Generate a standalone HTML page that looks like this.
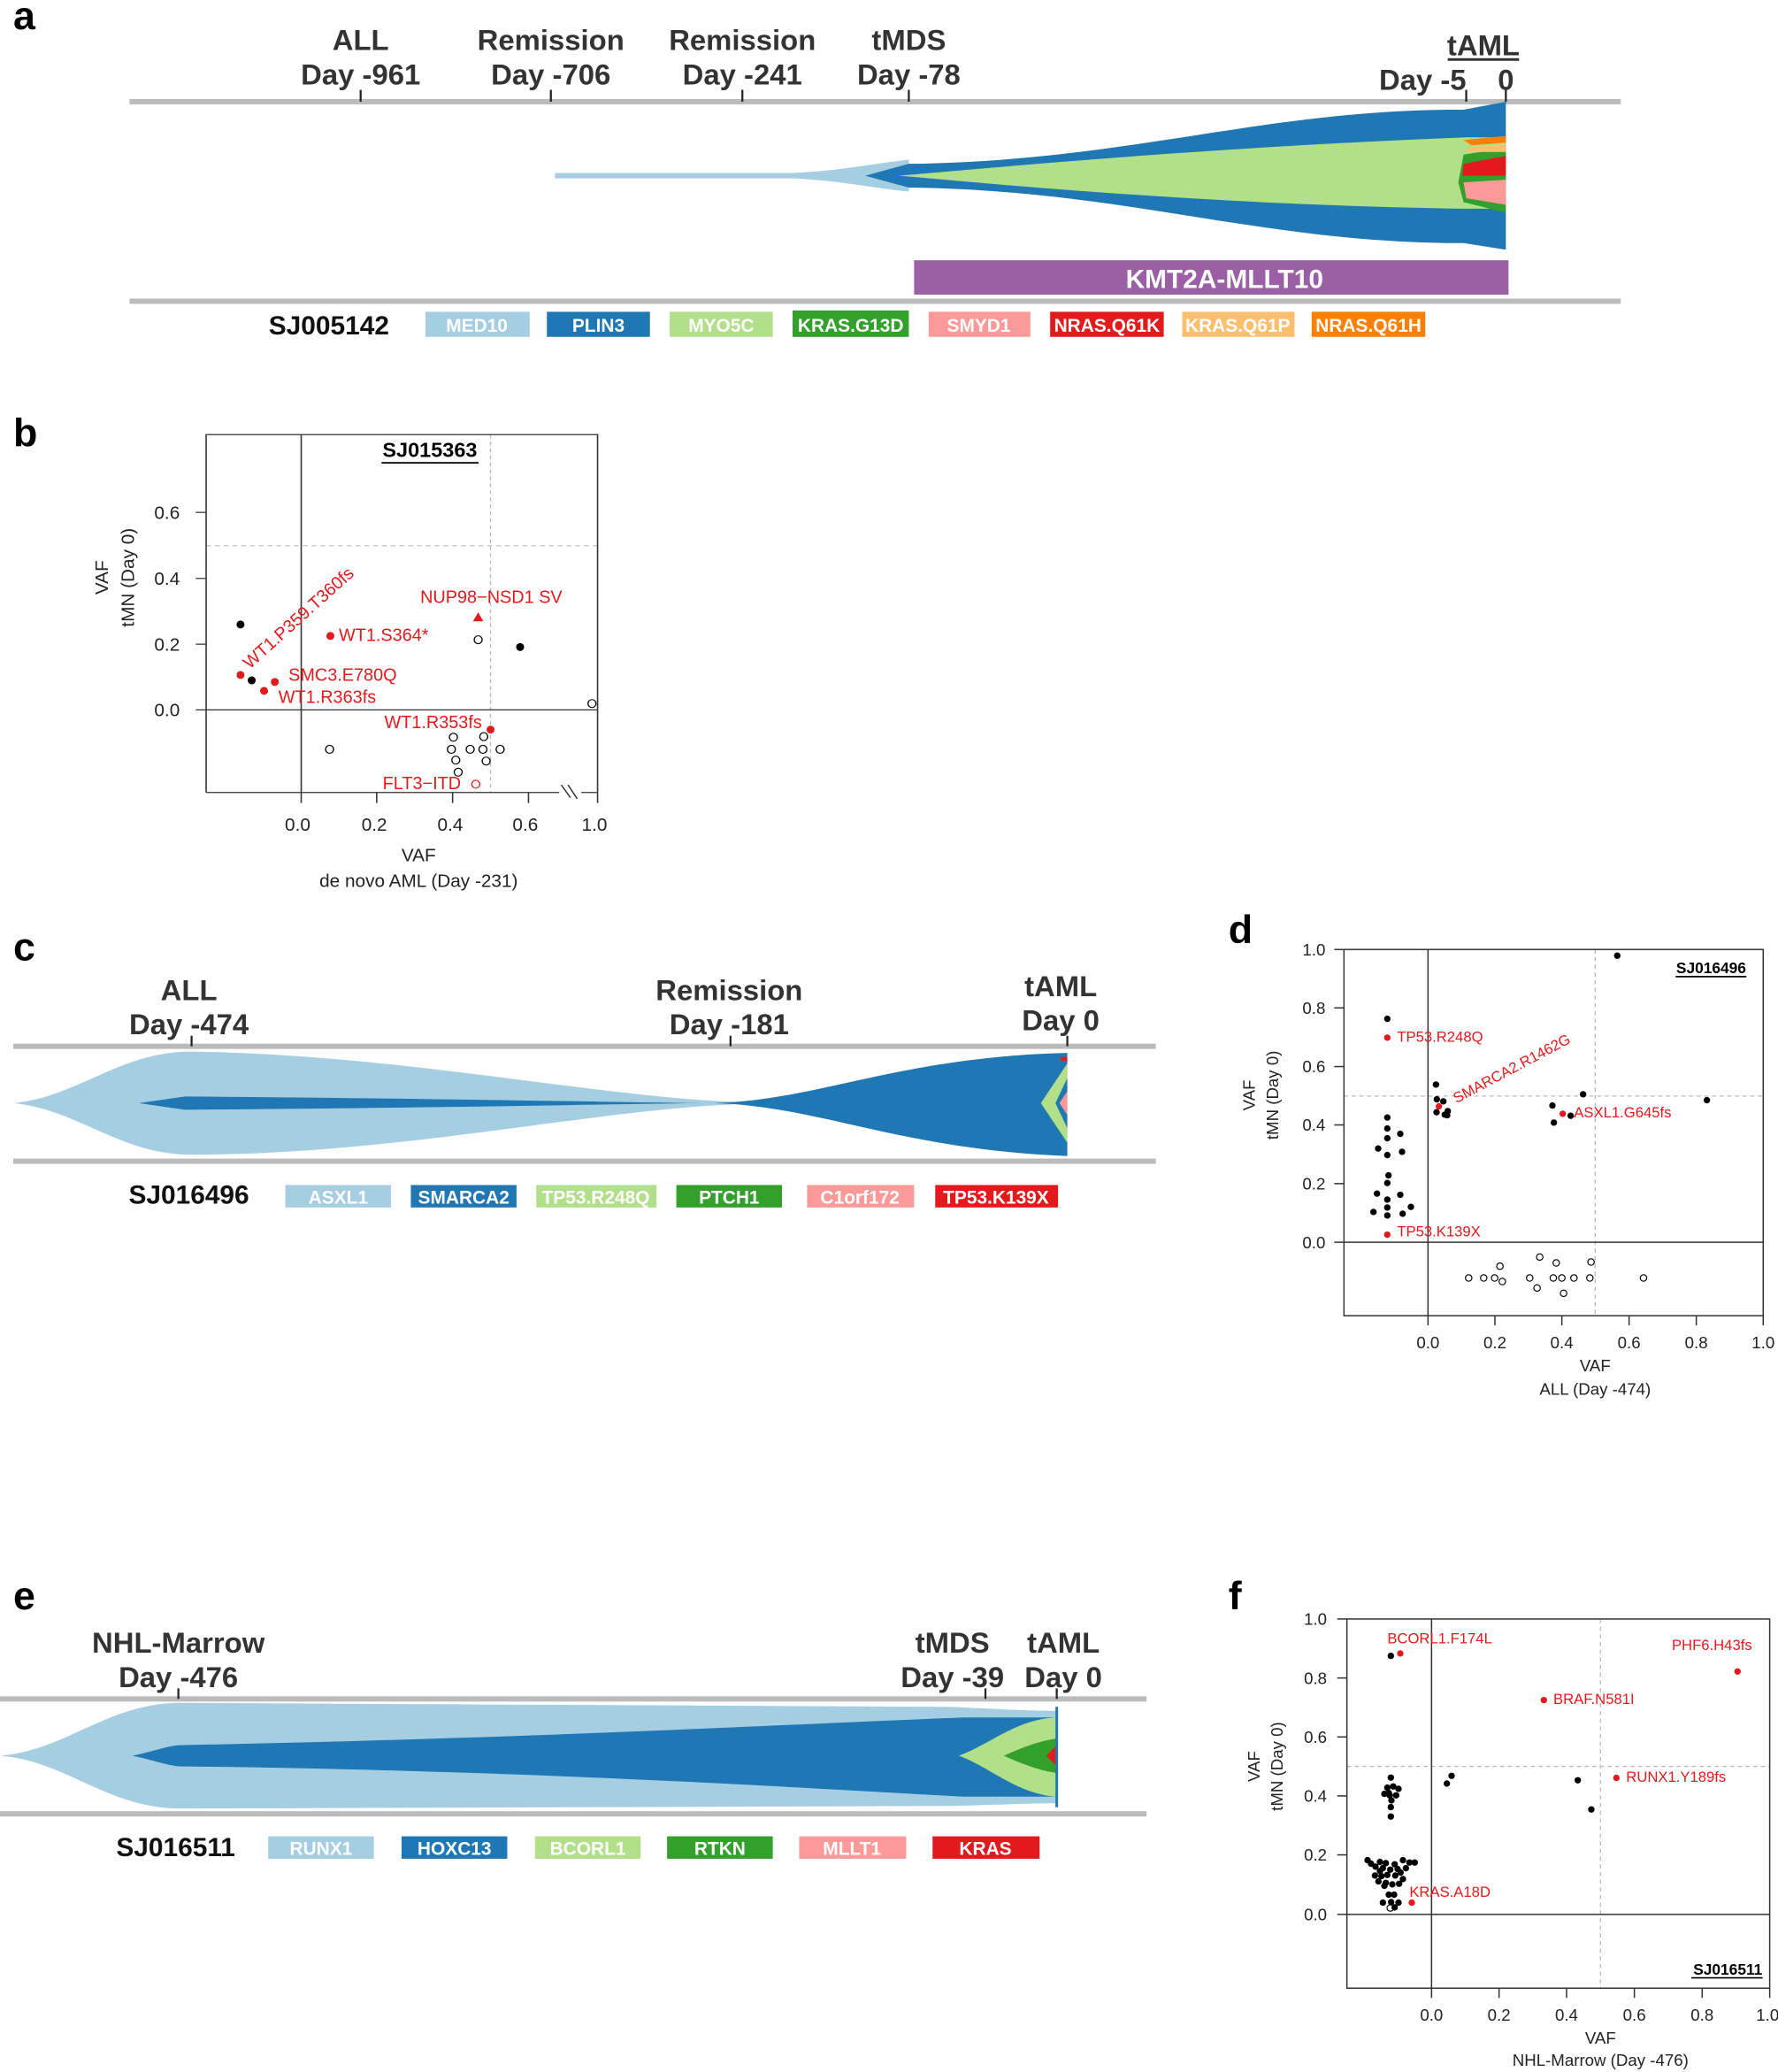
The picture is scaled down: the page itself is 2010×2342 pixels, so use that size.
<!DOCTYPE html>
<html><head><meta charset="utf-8"><style>
html,body{margin:0;padding:0;background:#fff}
svg{display:block}
.lab{font-family:"Liberation Sans",Arial,sans-serif;font-weight:bold;fill:#333;font-size:22px}
.leg{font-family:"Liberation Sans",Arial,sans-serif;font-weight:bold;fill:#fff;font-size:14px}
.pl{font-family:"Liberation Sans",Arial,sans-serif;font-weight:bold;fill:#000;font-size:30px}
.t{font-family:"Liberation Sans",Arial,sans-serif}
</style></head><body>
<svg width="2010" height="2342" viewBox="0 0 1346 1568.4" xmlns="http://www.w3.org/2000/svg">
<!-- PANEL A -->
<text class="pl" x="10" y="22">a</text>
<g class="lab" text-anchor="middle">
<text x="273" y="38">ALL</text><text x="273" y="64">Day -961</text>
<text x="417" y="38">Remission</text><text x="417" y="64">Day -706</text>
<text x="562" y="38">Remission</text><text x="562" y="64">Day -241</text>
<text x="688" y="38">tMDS</text><text x="688" y="64">Day -78</text>
<text x="1123" y="42">tAML</text><text x="1077" y="68">Day -5</text><text x="1140" y="68">0</text>
</g>
<line x1="1096" y1="45" x2="1150" y2="45" stroke="#333" stroke-width="2"/>
<rect x="98" y="75" width="1129" height="4" fill="#bbb"/>
<g stroke="#222" stroke-width="1.5"><line x1="273" y1="68" x2="273" y2="77"/><line x1="417" y1="68" x2="417" y2="77"/><line x1="562" y1="68" x2="562" y2="77"/><line x1="688" y1="68" x2="688" y2="77"/><line x1="1110" y1="68" x2="1110" y2="77"/><line x1="1140" y1="68" x2="1140" y2="77"/></g>
<path d="M420 131 L600 131 C640 129 665 123 688 121 L688 145 C665 143 640 137 600 135 L420 135Z" fill="#a6cee3"/>
<path d="M655 133 L688 124 C850 122 950 85 1095 83 L1108 83 L1140 77 L1140 189 L1108 184 L1095 184 C950 182 850 144 688 142Z" fill="#1f78b4"/>
<path d="M680 133 C720 130 900 112 1110 104 L1140 104 L1140 158 L1110 158 C900 155 720 136 680 133Z" fill="#b2df8a"/>
<path d="M1108 117 L1140 112 L1140 161 L1108 153 L1104 138Z" fill="#33a02c"/>
<path d="M1108 124 L1140 118 L1140 133 L1107 133Z" fill="#e31a1c"/>
<path d="M1108 138 L1140 136 L1140 155 L1110 150Z" fill="#fb9a99"/>
<path d="M1108 106 L1140 103 L1140 108 L1114 110Z" fill="#ff7f00"/>
<path d="M1112 112 L1140 109 L1140 115 L1110 115Z" fill="#fdbf6f"/>
<rect x="692" y="197" width="450" height="26" fill="#9b5fa6"/>
<text class="lab" x="927" y="218" text-anchor="middle" style="fill:#fff;font-size:20px">KMT2A-MLLT10</text>
<rect x="98" y="226" width="1129" height="4" fill="#bbb"/>
<text class="lab" x="249" y="253" text-anchor="middle" style="fill:#111;font-size:20px">SJ005142</text>
<g><rect x="322" y="236" width="79" height="19" fill="#a6cee3"/><rect x="414" y="236" width="78" height="19" fill="#1f78b4"/><rect x="507" y="236" width="78" height="19" fill="#b2df8a"/><rect x="600" y="235" width="88" height="20" fill="#33a02c"/><rect x="703" y="236" width="77" height="19" fill="#fb9a99"/><rect x="795" y="236" width="86" height="19" fill="#e31a1c"/><rect x="895" y="236" width="85" height="19" fill="#fdbf6f"/><rect x="993" y="236" width="86" height="19" fill="#ff7f00"/></g>
<g class="leg" text-anchor="middle"><text x="361" y="251">MED10</text><text x="453" y="251">PLIN3</text><text x="546" y="251">MYO5C</text><text x="644" y="251">KRAS.G13D</text><text x="741" y="251">SMYD1</text><text x="838" y="251">NRAS.Q61K</text><text x="937" y="251">KRAS.Q61P</text><text x="1036" y="251">NRAS.Q61H</text></g>

<!-- PANEL B -->
<text class="pl" x="10" y="338">b</text>
<g transform="translate(0,301.3) scale(0.3024,0.2404)" class="t">
<g stroke="#bbb" stroke-width="3" stroke-dasharray="12,10"><line x1="516" y1="465" x2="1496" y2="465"/><line x1="1228" y1="115" x2="1228" y2="1242"/></g>
<g stroke="#333" stroke-width="3.5" fill="none">
<path d="M516 1242 L516 115 L1496 115 L1496 1242"/>
<line x1="516" y1="1242" x2="1400" y2="1242"/><line x1="1455" y1="1242" x2="1496" y2="1242"/>
<line x1="490" y1="982" x2="1496" y2="982"/><line x1="754" y1="115" x2="754" y2="1275"/>
<line x1="490" y1="360" x2="516" y2="360"/><line x1="490" y1="568" x2="516" y2="568"/><line x1="490" y1="775" x2="516" y2="775"/>
<line x1="943" y1="1242" x2="943" y2="1275"/><line x1="1133" y1="1242" x2="1133" y2="1275"/><line x1="1323" y1="1242" x2="1323" y2="1275"/><line x1="1496" y1="1242" x2="1496" y2="1275"/>
<line x1="1405" y1="1218" x2="1428" y2="1258"/><line x1="1422" y1="1218" x2="1445" y2="1262"/>
</g>
<text transform="translate(1076,185) scale(1,1.258)" text-anchor="middle" font-size="52" font-weight="bold">SJ015363</text>
<line x1="955" y1="204" x2="1198" y2="204" stroke="#000" stroke-width="5"/>
<g font-size="46" fill="#222" text-anchor="end"><text transform="translate(450,380) scale(1,1.258)">0.6</text><text transform="translate(450,588) scale(1,1.258)">0.4</text><text transform="translate(450,795) scale(1,1.258)">0.2</text><text transform="translate(450,1002) scale(1,1.258)">0.0</text></g>
<g font-size="46" fill="#222" text-anchor="middle"><text transform="translate(745,1362) scale(1,1.258)">0.0</text><text transform="translate(937,1362) scale(1,1.258)">0.2</text><text transform="translate(1127,1362) scale(1,1.258)">0.4</text><text transform="translate(1315,1362) scale(1,1.258)">0.6</text><text transform="translate(1488,1362) scale(1,1.258)">1.0</text>
<text transform="translate(1048,1458) scale(1,1.258)">VAF</text><text transform="translate(1048,1540) scale(1,1.258)">de novo AML (Day -231)</text>
<text transform="translate(270,565) scale(1,1.258) rotate(-90)" font-size="46">VAF</text><text transform="translate(335,565) scale(1,1.258) rotate(-90)">tMN (Day 0)</text></g>
<g fill="#000"><ellipse cx="602" cy="713" rx="10" ry="12.5"/><ellipse cx="630" cy="889" rx="10" ry="12.5"/><ellipse cx="1302" cy="784" rx="10" ry="12.5"/></g>
<g fill="#e31a1c"><ellipse cx="602" cy="872" rx="10" ry="12.5"/><ellipse cx="688" cy="894" rx="10" ry="12.5"/><ellipse cx="661" cy="922" rx="10" ry="12.5"/><ellipse cx="827" cy="749" rx="10" ry="12.5"/><ellipse cx="1228" cy="1044" rx="10" ry="12.5"/><path d="M1197 675 L1210 703 L1184 703Z"/></g>
<g fill="none" stroke="#000" stroke-width="3"><ellipse cx="1197" cy="761" rx="10" ry="12.5"/><ellipse cx="1482" cy="962" rx="10" ry="12.5"/><ellipse cx="825" cy="1106" rx="10" ry="12.5"/><ellipse cx="1135" cy="1068" rx="10" ry="12.5"/><ellipse cx="1211" cy="1066" rx="10" ry="12.5"/><ellipse cx="1130" cy="1106" rx="10" ry="12.5"/><ellipse cx="1177" cy="1106" rx="10" ry="12.5"/><ellipse cx="1209" cy="1106" rx="10" ry="12.5"/><ellipse cx="1252" cy="1106" rx="10" ry="12.5"/><ellipse cx="1141" cy="1140" rx="10" ry="12.5"/><ellipse cx="1217" cy="1143" rx="10" ry="12.5"/><ellipse cx="1147" cy="1178" rx="10" ry="12.5"/></g>
<ellipse cx="1191" cy="1216" rx="10" ry="12.5" fill="none" stroke="#e31a1c" stroke-width="3"/>
<g font-size="44" fill="#e31a1c"><text transform="translate(1052,645) scale(1,1.258)">NUP98−NSD1 SV</text><text transform="translate(848,765) scale(1,1.258)">WT1.S364*</text><text transform="translate(722,890) scale(1,1.258)">SMC3.E780Q</text><text transform="translate(697,960) scale(1,1.258)">WT1.R363fs</text><text transform="translate(962,1040) scale(1,1.258)">WT1.R353fs</text><text transform="translate(958,1232) scale(1,1.258)">FLT3−ITD</text><text transform="translate(625,855) scale(1,1.258) rotate(-42)">WT1.P359.T360fs</text></g>
</g>

<!-- PANEL C -->
<text class="pl" x="10" y="727">c</text>
<g class="lab" text-anchor="middle"><text x="143" y="757">ALL</text><text x="143" y="783">Day -474</text><text x="552" y="757">Remission</text><text x="552" y="783">Day -181</text><text x="803" y="754">tAML</text><text x="803" y="780">Day 0</text></g>
<rect x="10" y="790" width="865" height="4" fill="#bbb"/>
<g stroke="#222" stroke-width="1.5"><line x1="145" y1="784" x2="145" y2="792"/><line x1="553" y1="784" x2="553" y2="792"/><line x1="808" y1="784" x2="808" y2="792"/></g>
<path d="M10 835 C60 830 90 796 145 796 C300 798 450 830 555 834 L555 836 C450 840 300 874 145 874 C90 874 60 840 10 835Z" fill="#a6cee3"/>
<path d="M105 835 L140 830 C300 831 450 834 530 835 C450 836 300 839 140 840Z" fill="#1f78b4"/>
<path d="M540 835 C620 833 680 800 808 797 L808 875 C680 870 620 837 540 835Z" fill="#1f78b4"/>
<path d="M788 835 L808 805 L808 816 L799 835 L808 854 L808 865Z" fill="#b2df8a"/>
<path d="M802 835 L808 826 L808 844Z" fill="#fb9a99"/>
<rect x="803" y="800" width="5" height="3" fill="#e31a1c"/>
<rect x="10" y="877" width="865" height="4" fill="#bbb"/>
<text class="lab" x="143" y="911" text-anchor="middle" style="fill:#111;font-size:20px">SJ016496</text>
<rect x="216" y="897" width="80" height="17" fill="#a6cee3"/><rect x="311" y="897" width="80" height="17" fill="#1f78b4"/><rect x="406" y="897" width="91" height="17" fill="#b2df8a"/><rect x="512" y="897" width="80" height="17" fill="#33a02c"/><rect x="611" y="897" width="81" height="17" fill="#fb9a99"/><rect x="708" y="897" width="93" height="17" fill="#e31a1c"/>
<g class="leg" text-anchor="middle"><text x="256" y="911">ASXL1</text><text x="351" y="911">SMARCA2</text><text x="451" y="911">TP53.R248Q</text><text x="552" y="911">PTCH1</text><text x="651" y="911">C1orf172</text><text x="754" y="911">TP53.K139X</text></g>

<!-- PANEL D -->
<text class="pl" x="930" y="714">d</text>
<g transform="translate(1004.5,703.1) scale(0.2232)" class="t">
<g stroke="#bbb" stroke-width="4" stroke-dasharray="14,12"><line x1="58" y1="567" x2="1480" y2="567"/><line x1="910" y1="70" x2="910" y2="1312"/></g>
<g stroke="#333" stroke-width="4.5" fill="none"><rect x="58" y="70" width="1422" height="1242"/>
<line x1="25" y1="1063" x2="1480" y2="1063"/><line x1="343" y1="70" x2="343" y2="1345"/>
<line x1="25" y1="70" x2="58" y2="70"/><line x1="25" y1="268" x2="58" y2="268"/><line x1="25" y1="467" x2="58" y2="467"/><line x1="25" y1="665" x2="58" y2="665"/><line x1="25" y1="864" x2="58" y2="864"/>
<line x1="570" y1="1312" x2="570" y2="1345"/><line x1="797" y1="1312" x2="797" y2="1345"/><line x1="1025" y1="1312" x2="1025" y2="1345"/><line x1="1253" y1="1312" x2="1253" y2="1345"/><line x1="1480" y1="1312" x2="1480" y2="1345"/></g>
<text x="1422" y="150" text-anchor="end" font-size="52" font-weight="bold">SJ016496</text>
<line x1="1183" y1="162" x2="1423" y2="162" stroke="#000" stroke-width="5"/>
<g font-size="56" fill="#222" text-anchor="end"><text x="-5" y="90">1.0</text><text x="-5" y="288">0.8</text><text x="-5" y="487">0.6</text><text x="-5" y="685">0.4</text><text x="-5" y="884">0.2</text><text x="-5" y="1083">0.0</text></g>
<g font-size="56" fill="#222" text-anchor="middle"><text x="343" y="1422">0.0</text><text x="570" y="1422">0.2</text><text x="797" y="1422">0.4</text><text x="1025" y="1422">0.6</text><text x="1253" y="1422">0.8</text><text x="1480" y="1422">1.0</text>
<text x="910" y="1500">VAF</text><text x="910" y="1580">ALL (Day -474)</text>
<text transform="translate(-245,564) rotate(-90)">VAF</text><text transform="translate(-165,564) rotate(-90)">tMN (Day 0)</text></g>
<g fill="#000"><circle cx="985" cy="91" r="11"/><circle cx="205" cy="305" r="11"/><circle cx="370" cy="528" r="11"/><circle cx="373" cy="578" r="11"/><circle cx="395" cy="585" r="11"/><circle cx="372" cy="622" r="11"/><circle cx="400" cy="630" r="11"/><circle cx="410" cy="618" r="11"/><circle cx="408" cy="632" r="11"/><circle cx="765" cy="599" r="11"/><circle cx="770" cy="657" r="11"/><circle cx="827" cy="634" r="11"/><circle cx="869" cy="561" r="11"/><circle cx="1289" cy="581" r="11"/><circle cx="205" cy="640" r="11"/><circle cx="205" cy="677" r="11"/><circle cx="249" cy="695" r="11"/><circle cx="205" cy="710" r="11"/><circle cx="174" cy="745" r="11"/><circle cx="255" cy="756" r="11"/><circle cx="205" cy="767" r="11"/><circle cx="209" cy="836" r="11"/><circle cx="205" cy="862" r="11"/><circle cx="170" cy="898" r="11"/><circle cx="249" cy="902" r="11"/><circle cx="205" cy="918" r="11"/><circle cx="285" cy="943" r="11"/><circle cx="205" cy="945" r="11"/><circle cx="158" cy="960" r="11"/><circle cx="257" cy="966" r="11"/><circle cx="205" cy="972" r="11"/></g>
<g fill="#e31a1c"><circle cx="205" cy="369" r="11"/><circle cx="380" cy="602" r="11"/><circle cx="800" cy="627" r="11"/><circle cx="205" cy="1037" r="11"/></g>
<g fill="none" stroke="#000" stroke-width="3.5"><circle cx="722" cy="1113" r="11"/><circle cx="587" cy="1144" r="11"/><circle cx="778" cy="1133" r="11"/><circle cx="896" cy="1130" r="11"/><circle cx="481" cy="1184" r="11"/><circle cx="532" cy="1184" r="11"/><circle cx="569" cy="1184" r="11"/><circle cx="595" cy="1196" r="11"/><circle cx="688" cy="1184" r="11"/><circle cx="768" cy="1184" r="11"/><circle cx="797" cy="1184" r="11"/><circle cx="838" cy="1184" r="11"/><circle cx="892" cy="1184" r="11"/><circle cx="1074" cy="1184" r="11"/><circle cx="713" cy="1218" r="11"/><circle cx="803" cy="1236" r="11"/></g>
<g font-size="50" fill="#e31a1c"><text x="238" y="383">TP53.R248Q</text><text x="838" y="640">ASXL1.G645fs</text><text x="238" y="1043">TP53.K139X</text><text transform="translate(440,592) rotate(-28)">SMARCA2.R1462G</text></g>
</g>

<!-- PANEL E -->
<text class="pl" x="10" y="1218">e</text>
<g class="lab" text-anchor="middle"><text x="135" y="1251">NHL-Marrow</text><text x="135" y="1277">Day -476</text><text x="721" y="1251">tMDS</text><text x="721" y="1277">Day -39</text><text x="805" y="1251">tAML</text><text x="805" y="1277">Day 0</text></g>
<rect x="0" y="1284" width="868" height="4" fill="#bbb"/>
<g stroke="#222" stroke-width="1.5"><line x1="135" y1="1278" x2="135" y2="1286"/><line x1="746" y1="1278" x2="746" y2="1286"/><line x1="800" y1="1278" x2="800" y2="1286"/></g>
<path d="M0 1329 C50 1325 80 1290 135 1289 L720 1292 C760 1294 780 1295 800 1295 L800 1365 C780 1365 760 1366 720 1367 L135 1369 C80 1368 50 1333 0 1329Z" fill="#a6cee3"/>
<path d="M100 1329 C115 1326 125 1322 135 1321 C400 1316 600 1305 730 1300 L800 1300 L800 1360 L730 1360 C600 1353 400 1340 135 1337 C125 1336 115 1332 100 1329Z" fill="#1f78b4"/>
<path d="M726 1329 C750 1320 770 1301 800 1300 L800 1360 C770 1358 750 1338 726 1329Z" fill="#b2df8a"/>
<path d="M760 1329 C775 1322 790 1317 800 1316 L800 1342 C790 1341 775 1336 760 1329Z" fill="#33a02c"/>
<path d="M792 1329 L800 1321 L800 1337Z" fill="#e31a1c"/>
<rect x="799" y="1292" width="2" height="76" fill="#1f78b4"/>
<rect x="0" y="1371" width="868" height="4" fill="#bbb"/>
<text class="lab" x="133" y="1405" text-anchor="middle" style="fill:#111;font-size:20px">SJ016511</text>
<rect x="203" y="1390" width="80" height="17" fill="#a6cee3"/><rect x="304" y="1390" width="80" height="17" fill="#1f78b4"/><rect x="405" y="1390" width="80" height="17" fill="#b2df8a"/><rect x="505" y="1390" width="80" height="17" fill="#33a02c"/><rect x="605" y="1390" width="81" height="17" fill="#fb9a99"/><rect x="706" y="1390" width="81" height="17" fill="#e31a1c"/>
<g class="leg" text-anchor="middle"><text x="243" y="1404">RUNX1</text><text x="344" y="1404">HOXC13</text><text x="445" y="1404">BCORL1</text><text x="545" y="1404">RTKN</text><text x="645" y="1404">MLLT1</text><text x="746" y="1404">KRAS</text></g>

<!-- PANEL F -->
<text class="pl" x="930" y="1218">f</text>
<g transform="translate(1004.5,1205.4) scale(0.2232)" class="t">
<g stroke="#bbb" stroke-width="4" stroke-dasharray="14,12"><line x1="68" y1="590" x2="1502" y2="590"/><line x1="928" y1="90" x2="928" y2="1342"/></g>
<g stroke="#333" stroke-width="4.5" fill="none"><rect x="68" y="90" width="1434" height="1252"/>
<line x1="35" y1="1092" x2="1502" y2="1092"/><line x1="355" y1="90" x2="355" y2="1375"/>
<line x1="35" y1="90" x2="68" y2="90"/><line x1="35" y1="290" x2="68" y2="290"/><line x1="35" y1="490" x2="68" y2="490"/><line x1="35" y1="690" x2="68" y2="690"/><line x1="35" y1="890" x2="68" y2="890"/>
<line x1="584" y1="1342" x2="584" y2="1375"/><line x1="813" y1="1342" x2="813" y2="1375"/><line x1="1043" y1="1342" x2="1043" y2="1375"/><line x1="1273" y1="1342" x2="1273" y2="1375"/><line x1="1502" y1="1342" x2="1502" y2="1375"/></g>
<text x="1477" y="1297" text-anchor="end" font-size="52" font-weight="bold">SJ016511</text>
<line x1="1236" y1="1307" x2="1478" y2="1307" stroke="#000" stroke-width="5"/>
<g font-size="56" fill="#222" text-anchor="end"><text x="0" y="110">1.0</text><text x="0" y="310">0.8</text><text x="0" y="510">0.6</text><text x="0" y="710">0.4</text><text x="0" y="910">0.2</text><text x="0" y="1112">0.0</text></g>
<g font-size="56" fill="#222" text-anchor="middle"><text x="355" y="1452">0.0</text><text x="584" y="1452">0.2</text><text x="813" y="1452">0.4</text><text x="1043" y="1452">0.6</text><text x="1273" y="1452">0.8</text><text x="1495" y="1452">1.0</text>
<text x="928" y="1530">VAF</text><text x="928" y="1605">NHL-Marrow (Day -476)</text>
<text transform="translate(-228,590) rotate(-90)">VAF</text><text transform="translate(-150,590) rotate(-90)">tMN (Day 0)</text></g>
<g fill="#000"><circle cx="217" cy="215" r="11"/><circle cx="423" cy="622" r="11"/><circle cx="407" cy="648" r="11"/><circle cx="851" cy="637" r="11"/><circle cx="897" cy="736" r="11"/>
<circle cx="217" cy="628" r="11"/><circle cx="205" cy="662" r="11"/><circle cx="225" cy="658" r="11"/><circle cx="243" cy="666" r="11"/><circle cx="195" cy="683" r="11"/><circle cx="213" cy="688" r="11"/><circle cx="235" cy="688" r="11"/><circle cx="219" cy="705" r="11"/><circle cx="217" cy="728" r="11"/><circle cx="217" cy="760" r="11"/><circle cx="210" cy="680" r="11"/>
<circle cx="138" cy="908" r="11"/><circle cx="150" cy="920" r="11"/><circle cx="180" cy="914" r="11"/><circle cx="200" cy="918" r="11"/><circle cx="230" cy="922" r="11"/><circle cx="258" cy="908" r="11"/><circle cx="280" cy="916" r="11"/><circle cx="298" cy="916" r="11"/><circle cx="165" cy="930" r="11"/><circle cx="190" cy="935" r="11"/><circle cx="215" cy="940" r="11"/><circle cx="240" cy="938" r="11"/><circle cx="268" cy="935" r="11"/><circle cx="163" cy="960" r="11"/><circle cx="185" cy="962" r="11"/><circle cx="205" cy="958" r="11"/><circle cx="232" cy="960" r="11"/><circle cx="258" cy="972" r="11"/><circle cx="175" cy="980" r="11"/><circle cx="200" cy="985" r="11"/><circle cx="222" cy="990" r="11"/><circle cx="245" cy="988" r="11"/><circle cx="210" cy="1025" r="11"/><circle cx="228" cy="1025" r="11"/><circle cx="190" cy="1052" r="11"/><circle cx="218" cy="1050" r="11"/><circle cx="243" cy="1052" r="11"/><circle cx="230" cy="1068" r="11"/><circle cx="180" cy="945" r="11"/><circle cx="250" cy="950" r="11"/><circle cx="195" cy="995" r="11"/></g>
<circle cx="215" cy="1070" r="11" fill="none" stroke="#000" stroke-width="3.5"/>
<g fill="#e31a1c"><circle cx="249" cy="207" r="11"/><circle cx="1393" cy="268" r="11"/><circle cx="736" cy="365" r="11"/><circle cx="982" cy="629" r="11"/><circle cx="288" cy="1052" r="11"/></g>
<g font-size="50" fill="#e31a1c"><text x="205" y="172">BCORL1.F174L</text><text x="1170" y="195">PHF6.H43fs</text><text x="768" y="378">BRAF.N581I</text><text x="1015" y="642">RUNX1.Y189fs</text><text x="280" y="1032">KRAS.A18D</text></g>
</g>
</svg>
</body></html>
